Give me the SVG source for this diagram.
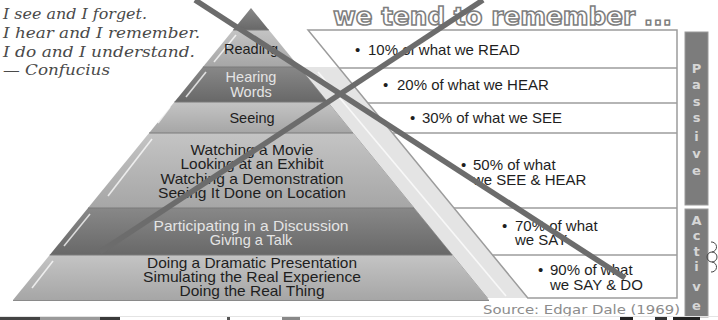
<svg xmlns="http://www.w3.org/2000/svg" width="718" height="320" viewBox="0 0 718 320">
<defs>
<linearGradient id="gl" x1="0" y1="0" x2="0" y2="1"><stop offset="0" stop-color="#c4c4c4"/><stop offset="1" stop-color="#a6a6a6"/></linearGradient>
<linearGradient id="gd" x1="0" y1="0" x2="0" y2="1"><stop offset="0" stop-color="#888888"/><stop offset="1" stop-color="#686868"/></linearGradient>
<style>
.q{font-family:"DejaVu Serif","Liberation Serif",serif;font-style:italic;font-size:15.5px;fill:#4a4a4a}
.pt{font-family:"Liberation Sans",Arial,sans-serif;font-size:14.5px;fill:#1e1e1e;text-anchor:middle}
.pw{font-family:"Liberation Sans",Arial,sans-serif;font-size:14.5px;fill:#e4e4e4;text-anchor:middle}
.tt{font-family:"Liberation Sans",Arial,sans-serif;font-size:15px;fill:#1e1e1e}
.bar{fill:#7c7c7c;stroke:#9a9a9a;stroke-width:1}
.bl{font-family:"DejaVu Sans",sans-serif;font-size:13px;font-weight:bold;fill:#d6d6d6;text-anchor:middle}
.hl{stroke:#ffffff;stroke-width:1.6;opacity:0.75;fill:none}
.sep{stroke:#7a7a7a;stroke-width:1;fill:none}
.row{stroke:#9c9c9c;stroke-width:1.4;fill:none}
.x{stroke:#6c6c6c;stroke-width:5.5;fill:none}
</style>
</defs>
<rect width="718" height="320" fill="#ffffff"/>

<g id="quote">
<text class="q" x="3" y="19" textLength="144" lengthAdjust="spacingAndGlyphs">I see and I forget.</text>
<text class="q" x="3" y="38" textLength="197" lengthAdjust="spacingAndGlyphs">I hear and I remember.</text>
<text class="q" x="3" y="57" textLength="192" lengthAdjust="spacingAndGlyphs">I do and I understand.</text>
<text class="q" x="3" y="75" textLength="107" lengthAdjust="spacingAndGlyphs">— Confucius</text>
</g>

<g id="title">
<text x="333" y="25" textLength="339" lengthAdjust="spacingAndGlyphs" style="font-family:'DejaVu Sans',sans-serif;font-weight:bold;font-size:24px;fill:#ffffff;stroke:#7e7e7e;stroke-width:1.5">we tend to remember ...</text>
</g>

<g id="side-band">
<polygon points="299.1,67 338.3,67 527.8,298 487.4,298" fill="#e4e4e4"/>
<line x1="318" y1="72" x2="506" y2="296" class="hl"/>
<line x1="299.1" y1="67" x2="487.4" y2="298" stroke="#a0a0a0" stroke-width="1"/>
</g>

<g id="pyramid">
<g id="layer-tip"><polygon points="251,8 268.9,30 233.1,30" fill="url(#gd)"/></g>
<g id="layer-reading">
<polygon points="233.1,30 268.9,30 299.1,67 202.9,67" fill="url(#gl)"/>
<line x1="236" y1="35" x2="214" y2="62" class="hl"/>
<text class="pt" x="251" y="54">Reading</text>
</g>
<g id="layer-hearing">
<polygon points="202.9,67 299.1,67 327.6,102 174.4,102" fill="url(#gd)"/>
<line x1="206" y1="72" x2="186" y2="97" class="hl"/>
<text class="pw" x="251" y="82">Hearing</text>
<text class="pw" x="251" y="97">Words</text>
</g>
<g id="layer-seeing">
<polygon points="174.4,102 327.6,102 352.9,133 149.1,133" fill="url(#gl)"/>
<line x1="170" y1="107" x2="158" y2="123" class="hl"/>
<text class="pt" x="252" y="123">Seeing</text>
</g>
<g id="layer-watching">
<polygon points="149.1,133 352.9,133 414,208 88,208" fill="url(#gl)"/>
<line x1="152" y1="139" x2="108" y2="196" class="hl"/>
<text class="pt" x="252" y="155" textLength="123" lengthAdjust="spacingAndGlyphs">Watching a Movie</text>
<text class="pt" x="252" y="169" textLength="143" lengthAdjust="spacingAndGlyphs">Looking at an Exhibit</text>
<text class="pt" x="252" y="184" textLength="183" lengthAdjust="spacingAndGlyphs">Watching a Demonstration</text>
<text class="pt" x="252" y="198" textLength="188" lengthAdjust="spacingAndGlyphs">Seeing It Done on Location</text>
</g>
<g id="layer-participating">
<polygon points="88,208 414,208 452.3,255 49.7,255" fill="url(#gd)"/>
<line x1="90" y1="214" x2="64" y2="246" class="hl"/>
<text class="pw" x="251" y="231" textLength="195" lengthAdjust="spacingAndGlyphs">Participating in a Discussion</text>
<text class="pw" x="251" y="245">Giving a Talk</text>
</g>
<g id="layer-doing">
<polygon points="49.7,255 452.3,255 489,300 13,300" fill="url(#gl)"/>
<line x1="53" y1="261" x2="32" y2="288" class="hl"/>
<text class="pt" x="252" y="268" textLength="210" lengthAdjust="spacingAndGlyphs">Doing a Dramatic Presentation</text>
<text class="pt" x="252" y="282" textLength="218" lengthAdjust="spacingAndGlyphs">Simulating the Real Experience</text>
<text class="pt" x="252" y="296" textLength="145" lengthAdjust="spacingAndGlyphs">Doing the Real Thing</text>
</g>
<polyline class="sep" points="233.1,30 268.9,30"/>
<polyline class="sep" points="202.9,67 299.1,67"/>
<polyline class="sep" points="174.4,102 327.6,102"/>
<polyline class="sep" points="149.1,133 352.9,133"/>
<polyline class="sep" points="88,208 414,208"/>
<polyline class="sep" points="49.7,255 452.3,255"/>
<line x1="13" y1="300.5" x2="489" y2="300.5" stroke="#8a8a8a" stroke-width="1"/>
</g>

<g id="table">
<polygon points="308,30 677,30 677,298 527.8,298" fill="#ffffff" stroke="#9c9c9c" stroke-width="1.5"/>
<line class="row" x1="339.2" y1="68" x2="677" y2="68"/>
<line class="row" x1="367.9" y1="103" x2="677" y2="103"/>
<line class="row" x1="392.5" y1="133" x2="677" y2="133"/>
<line class="row" x1="454" y1="208" x2="677" y2="208"/>
<line class="row" x1="492.5" y1="255" x2="677" y2="255"/>
<g id="row1"><text class="tt" x="355" y="55">•</text><text class="tt" x="368" y="55">10% of what we READ</text></g>
<g id="row2"><text class="tt" x="383" y="90">•</text><text class="tt" x="397" y="90">20% of what we HEAR</text></g>
<g id="row3"><text class="tt" x="410" y="123">•</text><text class="tt" x="422" y="123">30% of what we SEE</text></g>
<g id="row4"><text class="tt" x="461" y="170">•</text><text class="tt" x="473" y="170">50% of what</text><text class="tt" x="473" y="185">we SEE &amp; HEAR</text></g>
<g id="row5"><text class="tt" x="502" y="231">•</text><text class="tt" x="515" y="231">70% of what</text><text class="tt" x="515" y="245">we SAY</text></g>
<g id="row6"><text class="tt" x="538" y="275">•</text><text class="tt" x="550" y="275">90% of what</text><text class="tt" x="550" y="290">we SAY &amp; DO</text></g>
</g>

<g id="passive">
<rect class="bar" x="685" y="32" width="23" height="173"/>
<text class="bl" x="696.5" y="73">P</text>
<text class="bl" x="696.5" y="89">a</text>
<text class="bl" x="696.5" y="106">s</text>
<text class="bl" x="696.5" y="122">s</text>
<text class="bl" x="696.5" y="141">i</text>
<text class="bl" x="696.5" y="158">v</text>
<text class="bl" x="696.5" y="175">e</text>
</g>
<g id="active">
<rect class="bar" x="685" y="209" width="23" height="108"/>
<text class="bl" x="696.5" y="225">A</text>
<text class="bl" x="696.5" y="240">c</text>
<text class="bl" x="696.5" y="256">t</text>
<text class="bl" x="696.5" y="271">i</text>
<text class="bl" x="696.5" y="291">v</text>
<text class="bl" x="696.5" y="310">e</text>
</g>
<path d="M711,242 a5,5 0 0 1 1,10 a5,5 0 0 1 0,10 a5,5 0 0 1 -1,10 M712,252 a2.5,2.5 0 0 0 0,10" fill="none" stroke="#444" stroke-width="1"/>

<g id="source">
<text x="483" y="314" textLength="197" lengthAdjust="spacingAndGlyphs" style="font-family:'DejaVu Sans',sans-serif;font-size:13px;fill:#8c8c8c">Source: Edgar Dale (1969)</text>
</g>

<g id="bottom-strip">
<rect x="0" y="316" width="718" height="1" fill="#e4e4e4"/>
<rect x="0" y="317" width="40" height="3" fill="#444"/>
<rect x="40" y="317" width="60" height="3" fill="#9a9a9a"/>
<rect x="100" y="317" width="20" height="3" fill="#3a3a3a"/>
<rect x="227" y="317" width="3" height="3" fill="#555"/>
<rect x="282" y="317" width="18" height="3" fill="#888"/>
<rect x="620" y="317" width="13" height="3" fill="#222"/>
<rect x="655" y="317" width="12" height="3" fill="#333"/>
<rect x="673" y="317" width="27" height="3" fill="#222"/>
</g>

<g id="connectors">
<line class="x" x1="195" y1="0" x2="625" y2="278"/>
<line class="x" x1="483" y1="0" x2="100" y2="252"/>
</g>
</svg>
